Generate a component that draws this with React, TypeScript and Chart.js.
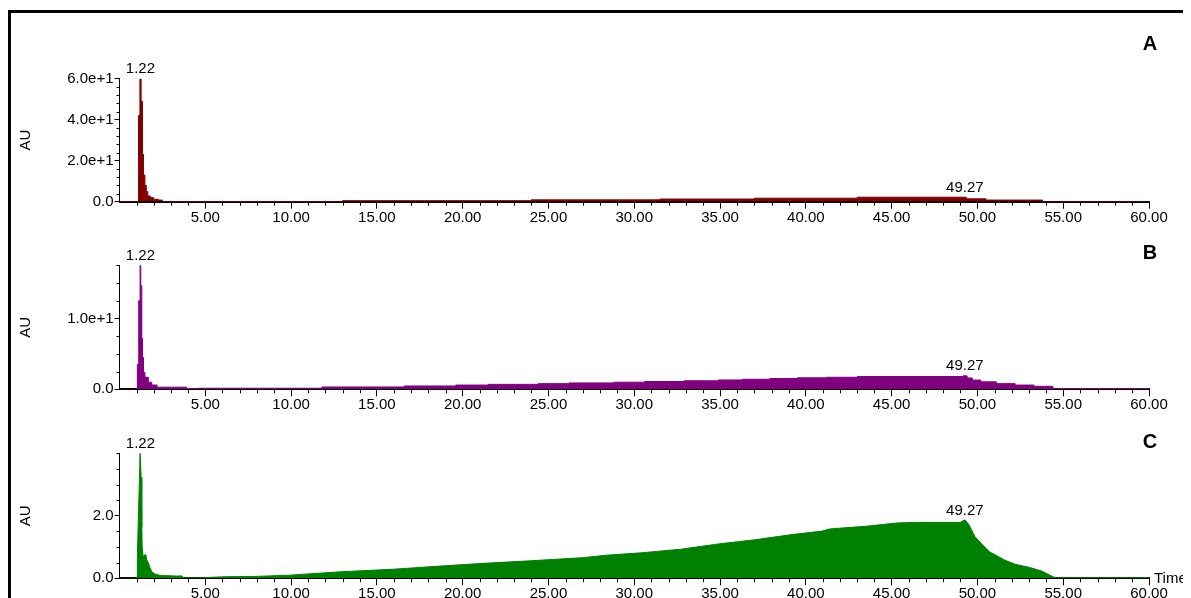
import React, { useEffect, useRef } from "react";
import { Chart, registerables } from "chart.js";

Chart.register(...registerables);

// ---------- data ----------
const xTickValues = [5, 10, 15, 20, 25, 30, 35, 40, 45, 50, 55, 60];

const timesA = [0, 1.11, 1.19, 1.26, 1.34, 1.4, 1.48, 1.56, 1.65, 1.79, 1.98, 2.27, 2.5, 13.0, 24.0, 31.5, 37.0, 43.0, 49.35, 50.5, 53.8, 60];
const valuesA = [0, 42, 60, 49, 23, 13, 8, 5, 2.8, 2.0, 1.2, 0.8, 0.1, 0.5, 0.9, 1.3, 1.7, 2.2, 1.4, 0.8, 0, 0];

const timesB = [0, 1.04, 1.12, 1.2, 1.24, 1.3, 1.34, 1.4, 1.48, 1.68, 1.88, 2.19, 3.9, 4.6, 11.8, 16.6, 19.6, 21.5, 24.4, 26.2, 28.8, 30.6, 32.9, 34.9, 36.3, 37.9, 39.5, 41.2, 43.0, 49.15, 49.4, 49.7, 50.2, 51.1, 52.2, 53.3, 54.4, 60];
const valuesB = [0, 3.5, 12.5, 17.5, 14.6, 7.2, 4.5, 2.4, 1.7, 1.0, 0.6, 0.3, 0.1, 0.15, 0.33, 0.47, 0.6, 0.7, 0.8, 0.9, 1.0, 1.1, 1.2, 1.32, 1.42, 1.52, 1.62, 1.7, 1.8, 1.9, 1.6, 1.3, 1.05, 0.8, 0.6, 0.42, 0.1, 0.1];

const timesC = [0, 1.03, 1.04, 1.14, 1.2, 1.24, 1.26, 1.3, 1.32, 1.38, 1.46, 1.54, 1.58, 1.68, 1.78, 1.88, 2.09, 2.39, 3.39, 3.59, 3.79, 4.9, 6.1, 7.9, 9.91, 12.92, 15.93, 18.94, 20.95, 23.96, 26.97, 28.4, 30.5, 32.7, 34.9, 37.0, 39.2, 40.95, 41.4, 43.6, 45.3, 46.4, 49.0, 49.27, 49.5, 49.85, 50.3, 50.7, 51.6, 52.2, 53.1, 53.75, 54.4, 54.6, 60];
const valuesC = [0, 0, 0.68, 2.75, 4.0, 4.0, 3.23, 1.63, 1.04, 0.68, 0.75, 0.75, 0.6, 0.5, 0.34, 0.21, 0.13, 0.09, 0.07, 0.08, 0.01, 0.02, 0.05, 0.06, 0.1, 0.21, 0.29, 0.4, 0.47, 0.56, 0.66, 0.74, 0.82, 0.93, 1.1, 1.23, 1.4, 1.51, 1.58, 1.67, 1.77, 1.79, 1.79, 1.87, 1.72, 1.34, 1.07, 0.85, 0.58, 0.45, 0.34, 0.23, 0.05, 0.02, 0.02];

const yTicksA = [0, 20, 40, 60];
const yLabelsA = ["0.0", "2.0e+1", "4.0e+1", "6.0e+1"];
const yTicksB = [0, 10];
const yLabelsB = ["0.0", "1.0e+1"];
const yTicksC = [0, 2];
const yLabelsC = ["0.0", "2.0"];

const peakTimes = [1.22, 49.27];
const peakLabels = ["1.22", "49.27"];
const peakValuesA = [60, 2.2];
const peakValuesB = [17.5, 1.9];
const peakValuesC = [4.0, 1.87];

const panelLetters = ["A", "B", "C"];
const yAxisTitle = "AU";
const xAxisTitle = "Time";

// ---------- layout / style ----------
const FONT = "'Liberation Sans', Arial, Helvetica, sans-serif";
const CANVAS_W = 1183;

type Panel = {
  times: number[];
  values: number[];
  color: string;
  stepped: boolean;
  yMax: number;
  yTicks: number[];
  yLabels: string[];
  yMinorStep: number;
  peakValues: number[];
  letter: string;
  top: number;
  height: number;
  areaTop: number;
  areaBottom: number;
  letterY: number;
  showTime: boolean;
};

const panels: Panel[] = [
  {
    times: timesA, values: valuesA, color: "#800000", stepped: true,
    yMax: 60, yTicks: yTicksA, yLabels: yLabelsA, yMinorStep: 4, peakValues: peakValuesA,
    letter: panelLetters[0], top: 12, height: 205, areaTop: 58.7, areaBottom: 181.7, letterY: 24, showTime: false,
  },
  {
    times: timesB, values: valuesB, color: "#800080", stepped: true,
    yMax: 17.5, yTicks: yTicksB, yLabels: yLabelsB, yMinorStep: 2.5, peakValues: peakValuesB,
    letter: panelLetters[1], top: 222, height: 183, areaTop: 35.3, areaBottom: 159.3, letterY: 23, showTime: false,
  },
  {
    times: timesC, values: valuesC, color: "#008000", stepped: false,
    yMax: 4, yTicks: yTicksC, yLabels: yLabelsC, yMinorStep: 0.5, peakValues: peakValuesC,
    letter: panelLetters[2], top: 410, height: 180, areaTop: 35.3, areaBottom: 160.3, letterY: 24, showTime: true,
  },
];

function PanelChart({ p }: { p: Panel }) {
  const ref = useRef<HTMLCanvasElement | null>(null);

  useEffect(() => {
    if (!ref.current) return;
    const xHeight = p.height - p.areaBottom;
    const decor = {
      id: "decor",
      afterDraw(chart: any) {
        const ctx = chart.ctx;
        const xs = chart.scales.x;
        const ys = chart.scales.y;
        const a = chart.chartArea;
        ctx.save();
        ctx.strokeStyle = "#000";
        ctx.lineWidth = 1;
        // x minor ticks
        for (let v = 1; v < 60; v++) {
          if (v % 5 === 0) continue;
          const px = Math.round(xs.getPixelForValue(v)) + 0.5;
          ctx.beginPath();
          ctx.moveTo(px, a.bottom);
          ctx.lineTo(px, a.bottom + 4);
          ctx.stroke();
        }
        // y minor ticks
        for (let v = p.yMinorStep; v <= p.yMax + 1e-6; v += p.yMinorStep) {
          if (p.yTicks.some((t) => Math.abs(t - v) < 1e-6)) continue;
          const py = Math.round(ys.getPixelForValue(v)) + 0.5;
          ctx.beginPath();
          ctx.moveTo(a.left - 3, py);
          ctx.lineTo(a.left, py);
          ctx.stroke();
        }
        // peak labels
        ctx.fillStyle = "#000";
        ctx.font = `15px ${FONT}`;
        ctx.textAlign = "center";
        ctx.textBaseline = "middle";
        peakTimes.forEach((t, i) => {
          const px = xs.getPixelForValue(t);
          const py = ys.getPixelForValue(p.peakValues[i]) - 9.5;
          ctx.fillText(peakLabels[i], px, py);
        });
        // y axis title
        ctx.save();
        ctx.translate(18, (a.top + a.bottom) / 2);
        ctx.rotate(-Math.PI / 2);
        ctx.textAlign = "center";
        ctx.textBaseline = "middle";
        ctx.fillText(yAxisTitle, 0, 0);
        ctx.restore();
        // time label
        if (p.showTime) {
          ctx.textAlign = "left";
          ctx.textBaseline = "middle";
          ctx.fillText(xAxisTitle, a.right + 5, a.bottom + 1);
        }
        // panel letter
        ctx.font = `bold 20px ${FONT}`;
        ctx.textAlign = "center";
        ctx.textBaseline = "middle";
        ctx.fillText(p.letter, 1142, p.letterY);
        ctx.restore();
      },
    };

    const chart = new Chart(ref.current, {
      type: "line",
      data: {
        datasets: [
          {
            data: p.times.map((t, i) => ({ x: t, y: p.values[i] })),
            borderColor: p.color,
            backgroundColor: p.color,
            borderWidth: 1,
            pointRadius: 0,
            fill: "origin",
            stepped: p.stepped,
            tension: 0,
          },
        ],
      },
      options: {
        animation: false,
        responsive: false,
        devicePixelRatio: 1,
        events: [],
        layout: { padding: { top: p.areaTop, right: 42, left: 0, bottom: 0 } },
        plugins: { legend: { display: false }, tooltip: { enabled: false } },
        scales: {
          x: {
            type: "linear",
            min: 0,
            max: 60,
            afterBuildTicks: (scale: any) => {
              scale.ticks = xTickValues.map((v) => ({ value: v }));
            },
            afterFit: (scale: any) => {
              scale.height = xHeight;
            },
            grid: {
              display: true,
              drawOnChartArea: false,
              drawTicks: true,
              tickLength: 7,
              tickColor: "#000",
              tickWidth: 1,
            },
            border: { display: true, color: "#000", width: 2 },
            ticks: {
              padding: 0,
              maxRotation: 0,
              autoSkip: false,
              color: "#000",
              font: { family: FONT, size: 15 },
              callback: (v: any) => Number(v).toFixed(2),
            },
          },
          y: {
            type: "linear",
            min: 0,
            max: p.yMax,
            afterBuildTicks: (scale: any) => {
              scale.ticks = p.yTicks.map((v) => ({ value: v }));
            },
            afterFit: (scale: any) => {
              scale.width = 111.5;
            },
            grid: {
              display: true,
              drawOnChartArea: false,
              drawTicks: true,
              tickLength: 5,
              tickColor: "#000",
              tickWidth: 1,
            },
            border: { display: true, color: "#000", width: 1 },
            ticks: {
              padding: 1,
              color: "#000",
              font: { family: FONT, size: 15 },
              callback: (v: any) => {
                const idx = p.yTicks.findIndex((t) => Math.abs(t - Number(v)) < 1e-9);
                return idx >= 0 ? p.yLabels[idx] : "";
              },
            },
          },
        },
      },
      plugins: [decor],
    } as any);

    return () => chart.destroy();
  }, [p]);

  return (
    <canvas
      ref={ref}
      width={CANVAS_W}
      height={p.height}
      style={{ position: "absolute", left: 0, top: p.top, width: CANVAS_W, height: p.height }}
    />
  );
}

export default function App() {
  return (
    <div style={{ position: "relative", width: CANVAS_W, height: 590, overflow: "hidden", background: "#fff" }}>
      <div
        style={{
          position: "absolute",
          left: 0,
          top: 2,
          width: CANVAS_W,
          height: 588,
          borderTop: "3px solid #000",
          borderLeft: "3px solid #000",
          boxSizing: "border-box",
        }}
      />
      {panels.map((p) => (
        <PanelChart key={p.letter} p={p} />
      ))}
    </div>
  );
}
